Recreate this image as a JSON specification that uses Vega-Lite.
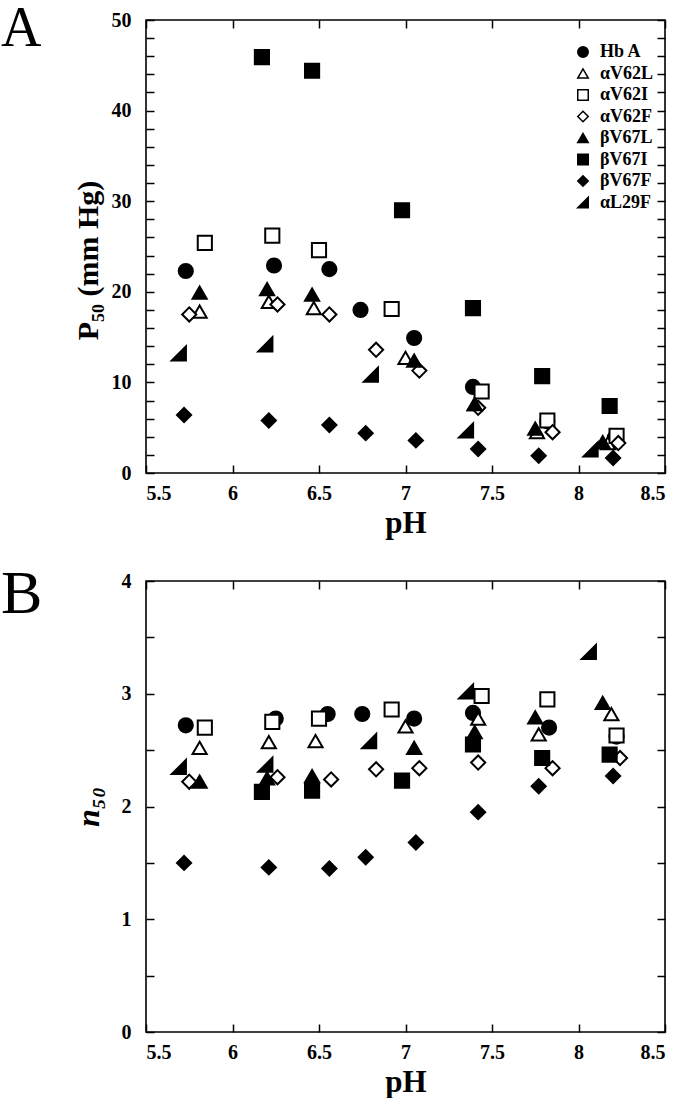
{
  "$schema": "https://vega.github.io/schema/vega-lite/v6.json",
  "autosize": {"type": "pad"},
  "padding": 0,
  "background": "white",
  "config": {
    "font": "Liberation Serif",
    "view": {"stroke": "black", "strokeWidth": 1.6},
    "axis": {
      "grid": false,
      "domain": false,
      "tickColor": "black",
      "tickWidth": 1.5,
      "tickSize": -8,
      "labelFont": "Liberation Serif",
      "labelFontWeight": "bold",
      "labelFontSize": 20,
      "labelColor": "black",
      "titleFont": "Liberation Serif",
      "titleFontWeight": "bold",
      "titleFontSize": 31,
      "titleColor": "black"
    },
    "legend": {
      "labelFont": "Liberation Serif",
      "labelFontWeight": "bold",
      "labelFontSize": 18,
      "labelColor": "black"
    }
  },
  "datasets": {
    "a": [
      {"variant": "Hb A", "pH": 5.73, "P50": 22.3},
      {"variant": "Hb A", "pH": 6.24, "P50": 22.9},
      {"variant": "Hb A", "pH": 6.56, "P50": 22.5},
      {"variant": "Hb A", "pH": 6.74, "P50": 18.0},
      {"variant": "Hb A", "pH": 7.05, "P50": 14.9},
      {"variant": "Hb A", "pH": 7.39, "P50": 9.5},
      {"variant": "Hb A", "pH": 7.82, "P50": 5.7},
      {"variant": "Hb A", "pH": 8.21, "P50": 3.9},
      {"variant": "αV62L", "pH": 5.81, "P50": 17.8},
      {"variant": "αV62L", "pH": 6.21, "P50": 18.9},
      {"variant": "αV62L", "pH": 6.47, "P50": 18.2},
      {"variant": "αV62L", "pH": 7.0, "P50": 12.7},
      {"variant": "αV62L", "pH": 7.4, "P50": 7.6},
      {"variant": "αV62L", "pH": 7.76, "P50": 4.5},
      {"variant": "αV62L", "pH": 8.17, "P50": 3.3},
      {"variant": "αV62I", "pH": 5.84, "P50": 25.4},
      {"variant": "αV62I", "pH": 6.23, "P50": 26.2},
      {"variant": "αV62I", "pH": 6.5, "P50": 24.6},
      {"variant": "αV62I", "pH": 6.92, "P50": 18.1},
      {"variant": "αV62I", "pH": 7.44, "P50": 9.0},
      {"variant": "αV62I", "pH": 7.82, "P50": 5.8},
      {"variant": "αV62I", "pH": 8.22, "P50": 4.1},
      {"variant": "αV62F", "pH": 5.75, "P50": 17.5},
      {"variant": "αV62F", "pH": 6.26, "P50": 18.6},
      {"variant": "αV62F", "pH": 6.56, "P50": 17.5},
      {"variant": "αV62F", "pH": 6.83, "P50": 13.6},
      {"variant": "αV62F", "pH": 7.08, "P50": 11.3},
      {"variant": "αV62F", "pH": 7.42, "P50": 7.2},
      {"variant": "αV62F", "pH": 7.85, "P50": 4.5},
      {"variant": "αV62F", "pH": 8.23, "P50": 3.3},
      {"variant": "βV67L", "pH": 5.81, "P50": 19.9},
      {"variant": "βV67L", "pH": 6.2, "P50": 20.3},
      {"variant": "βV67L", "pH": 6.46, "P50": 19.7},
      {"variant": "βV67L", "pH": 7.05, "P50": 12.4},
      {"variant": "βV67L", "pH": 7.4, "P50": 7.6},
      {"variant": "βV67L", "pH": 7.75, "P50": 4.9},
      {"variant": "βV67L", "pH": 8.14, "P50": 3.4},
      {"variant": "βV67I", "pH": 6.17, "P50": 45.9},
      {"variant": "βV67I", "pH": 6.46, "P50": 44.4},
      {"variant": "βV67I", "pH": 6.98, "P50": 29.0},
      {"variant": "βV67I", "pH": 7.39, "P50": 18.2},
      {"variant": "βV67I", "pH": 7.79, "P50": 10.7},
      {"variant": "βV67I", "pH": 8.18, "P50": 7.4},
      {"variant": "βV67F", "pH": 5.72, "P50": 6.4},
      {"variant": "βV67F", "pH": 6.21, "P50": 5.8},
      {"variant": "βV67F", "pH": 6.56, "P50": 5.3},
      {"variant": "βV67F", "pH": 6.77, "P50": 4.4},
      {"variant": "βV67F", "pH": 7.06, "P50": 3.6},
      {"variant": "βV67F", "pH": 7.42, "P50": 2.65},
      {"variant": "βV67F", "pH": 7.77, "P50": 1.9},
      {"variant": "βV67F", "pH": 8.2, "P50": 1.65},
      {"variant": "αL29F", "pH": 5.69, "P50": 13.2},
      {"variant": "αL29F", "pH": 6.19, "P50": 14.2},
      {"variant": "αL29F", "pH": 6.8, "P50": 10.85},
      {"variant": "αL29F", "pH": 7.35, "P50": 4.7},
      {"variant": "αL29F", "pH": 8.07, "P50": 2.6}
    ],
    "b": [
      {"variant": "Hb A", "pH": 5.73, "n50": 2.72},
      {"variant": "Hb A", "pH": 6.25, "n50": 2.78},
      {"variant": "Hb A", "pH": 6.55, "n50": 2.82},
      {"variant": "Hb A", "pH": 6.75, "n50": 2.82},
      {"variant": "Hb A", "pH": 7.05, "n50": 2.78},
      {"variant": "Hb A", "pH": 7.39, "n50": 2.83},
      {"variant": "Hb A", "pH": 7.83, "n50": 2.7},
      {"variant": "Hb A", "pH": 8.22, "n50": 2.62},
      {"variant": "αV62L", "pH": 5.81, "n50": 2.52},
      {"variant": "αV62L", "pH": 6.21, "n50": 2.57},
      {"variant": "αV62L", "pH": 6.48, "n50": 2.58},
      {"variant": "αV62L", "pH": 7.0, "n50": 2.71},
      {"variant": "αV62L", "pH": 7.42, "n50": 2.78},
      {"variant": "αV62L", "pH": 7.77, "n50": 2.64},
      {"variant": "αV62L", "pH": 8.19, "n50": 2.82},
      {"variant": "αV62I", "pH": 5.84, "n50": 2.7},
      {"variant": "αV62I", "pH": 6.23, "n50": 2.75},
      {"variant": "αV62I", "pH": 6.5, "n50": 2.78},
      {"variant": "αV62I", "pH": 6.92, "n50": 2.86},
      {"variant": "αV62I", "pH": 7.44, "n50": 2.98},
      {"variant": "αV62I", "pH": 7.82, "n50": 2.95},
      {"variant": "αV62I", "pH": 8.22, "n50": 2.63},
      {"variant": "αV62F", "pH": 5.75, "n50": 2.22},
      {"variant": "αV62F", "pH": 6.26, "n50": 2.26},
      {"variant": "αV62F", "pH": 6.57, "n50": 2.24},
      {"variant": "αV62F", "pH": 6.83, "n50": 2.33},
      {"variant": "αV62F", "pH": 7.08, "n50": 2.34},
      {"variant": "αV62F", "pH": 7.42, "n50": 2.39},
      {"variant": "αV62F", "pH": 7.85, "n50": 2.34},
      {"variant": "αV62F", "pH": 8.24, "n50": 2.43},
      {"variant": "βV67L", "pH": 5.81, "n50": 2.22},
      {"variant": "βV67L", "pH": 6.2, "n50": 2.25},
      {"variant": "βV67L", "pH": 6.46, "n50": 2.27},
      {"variant": "βV67L", "pH": 7.05, "n50": 2.52},
      {"variant": "βV67L", "pH": 7.4, "n50": 2.66},
      {"variant": "βV67L", "pH": 7.75, "n50": 2.79},
      {"variant": "βV67L", "pH": 8.14, "n50": 2.92},
      {"variant": "βV67I", "pH": 6.17, "n50": 2.13},
      {"variant": "βV67I", "pH": 6.46, "n50": 2.14},
      {"variant": "βV67I", "pH": 6.98, "n50": 2.23},
      {"variant": "βV67I", "pH": 7.39, "n50": 2.55},
      {"variant": "βV67I", "pH": 7.79, "n50": 2.43},
      {"variant": "βV67I", "pH": 8.18, "n50": 2.46},
      {"variant": "βV67F", "pH": 5.72, "n50": 1.5},
      {"variant": "βV67F", "pH": 6.21, "n50": 1.46},
      {"variant": "βV67F", "pH": 6.56, "n50": 1.45},
      {"variant": "βV67F", "pH": 6.77, "n50": 1.55},
      {"variant": "βV67F", "pH": 7.06, "n50": 1.68},
      {"variant": "βV67F", "pH": 7.42, "n50": 1.95},
      {"variant": "βV67F", "pH": 7.77, "n50": 2.18},
      {"variant": "βV67F", "pH": 8.2, "n50": 2.27},
      {"variant": "αL29F", "pH": 5.69, "n50": 2.35},
      {"variant": "αL29F", "pH": 6.19, "n50": 2.37},
      {"variant": "αL29F", "pH": 6.79, "n50": 2.58},
      {"variant": "αL29F", "pH": 7.35, "n50": 3.02},
      {"variant": "αL29F", "pH": 8.06, "n50": 3.37}
    ]
  },
  "bounds": "flush",
  "spacing": 108,
  "resolve": {
    "scale": {"x": "independent", "y": "independent"}
  },
  "vconcat": [
    {
      "width": 519,
      "height": 453,
      "title": {"text": "A", "anchor": "start", "frame": "group", "orient": "top", "offset": -92, "baseline": "alphabetic", "dx": -145, "fontSize": 56, "font": "Liberation Serif", "fontWeight": "normal", "color": "black"},
      "data": {"name": "a"},
      "resolve": {"axis": {"x": "independent", "y": "independent"}},
      "layer": [
        {
          "mark": {"type": "point", "filled": true, "strokeWidth": 2, "opacity": 1, "size": 200},
          "encoding": {
            "x": {"field": "pH", "type": "quantitative", "scale": {"domain": [5.5, 8.5], "nice": false, "zero": false},
              "axis": {"orient": "bottom", "values": [5.5, 6, 6.5, 7, 7.5, 8, 8.5], "format": "~g", "labelPadding": 18, "title": "pH", "titlePadding": 5}},
            "y": {"field": "P50", "type": "quantitative", "scale": {"domain": [0, 50], "nice": false},
              "axis": {"orient": "left", "values": [0,2,4,6,8,10,12,14,16,18,20,22,24,26,28,30,32,34,36,38,40,42,44,46,48,50], "labelExpr": "datum.value % 10 === 0 ? datum.label : ''", "labelPadding": 23, "title": "P₅₀ (mm Hg)", "titleFontSize": 30, "titlePadding": 8, "titleY": 240}},
            "shape": {"field": "variant", "type": "nominal",
              "scale": {"domain": ["Hb A", "αV62L", "αV62I", "αV62F", "βV67L", "βV67I", "βV67F", "αL29F"],
                "range": ["circle", "triangle-up", "square", "diamond", "triangle-up", "square", "diamond", "M1,-1L1,1L-1,1Z"]},
              "legend": {"title": null, "orient": "none", "legendX": 428, "legendY": 23, "padding": 0, "symbolSize": 110, "symbolStrokeWidth": 1.5, "rowPadding": 3.5, "labelOffset": 8}},
            "fill": {"field": "variant", "type": "nominal",
              "scale": {"domain": ["Hb A", "αV62L", "αV62I", "αV62F", "βV67L", "βV67I", "βV67F", "αL29F"],
                "range": ["black", "white", "white", "white", "black", "black", "black", "black"]},
              "legend": {"title": null, "orient": "none", "legendX": 428, "legendY": 23, "padding": 0, "symbolSize": 110, "symbolStrokeWidth": 1.5, "rowPadding": 3.5, "labelOffset": 8}},
            "stroke": {"field": "variant", "type": "nominal",
              "scale": {"domain": ["Hb A", "αV62L", "αV62I", "αV62F", "βV67L", "βV67I", "βV67F", "αL29F"],
                "range": ["black", "black", "black", "black", "black", "black", "black", "black"]},
              "legend": {"title": null, "orient": "none", "legendX": 428, "legendY": 23, "padding": 0, "symbolSize": 110, "symbolStrokeWidth": 1.5, "rowPadding": 3.5, "labelOffset": 8}}
          }
        },
        {
          "mark": {"type": "point", "opacity": 0},
          "encoding": {
            "x": {"field": "pH", "type": "quantitative", "axis": {"orient": "top", "values": [5.5, 6, 6.5, 7, 7.5, 8, 8.5], "labels": false, "title": null}},
            "y": {"field": "P50", "type": "quantitative", "axis": {"orient": "right", "values": [0,2,4,6,8,10,12,14,16,18,20,22,24,26,28,30,32,34,36,38,40,42,44,46,48,50], "labels": false, "title": null}}
          }
        }
      ]
    },
    {
      "width": 519,
      "height": 451,
      "title": {"text": "B", "anchor": "start", "frame": "group", "orient": "top", "offset": -104, "baseline": "alphabetic", "dx": -145, "fontSize": 62, "font": "Liberation Serif", "fontWeight": "normal", "color": "black"},
      "data": {"name": "b"},
      "resolve": {"axis": {"x": "independent", "y": "independent"}},
      "layer": [
        {
          "mark": {"type": "point", "filled": true, "strokeWidth": 2, "opacity": 1, "size": 200},
          "encoding": {
            "x": {"field": "pH", "type": "quantitative", "scale": {"domain": [5.5, 8.5], "nice": false, "zero": false},
              "axis": {"orient": "bottom", "values": [5.5, 6, 6.5, 7, 7.5, 8, 8.5], "format": "~g", "labelPadding": 18, "title": "pH", "titlePadding": 5}},
            "y": {"field": "n50", "type": "quantitative", "scale": {"domain": [0, 4], "nice": false},
              "axis": {"orient": "left", "values": [0, 0.5, 1, 1.5, 2, 2.5, 3, 3.5, 4], "format": "~g", "labelExpr": "datum.value % 1 === 0 ? datum.label : ''", "labelPadding": 23, "title": "n₅₀", "titleFontSize": 32, "titleFontStyle": "italic", "titlePadding": 16}},
            "shape": {"field": "variant", "type": "nominal"},
            "fill": {"field": "variant", "type": "nominal"},
            "stroke": {"field": "variant", "type": "nominal"}
          }
        },
        {
          "mark": {"type": "point", "opacity": 0},
          "encoding": {
            "x": {"field": "pH", "type": "quantitative", "axis": {"orient": "top", "values": [5.5, 6, 6.5, 7, 7.5, 8, 8.5], "labels": false, "title": null}},
            "y": {"field": "n50", "type": "quantitative", "axis": {"orient": "right", "values": [0, 0.5, 1, 1.5, 2, 2.5, 3, 3.5, 4], "labels": false, "title": null}}
          }
        }
      ]
    }
  ]
}
